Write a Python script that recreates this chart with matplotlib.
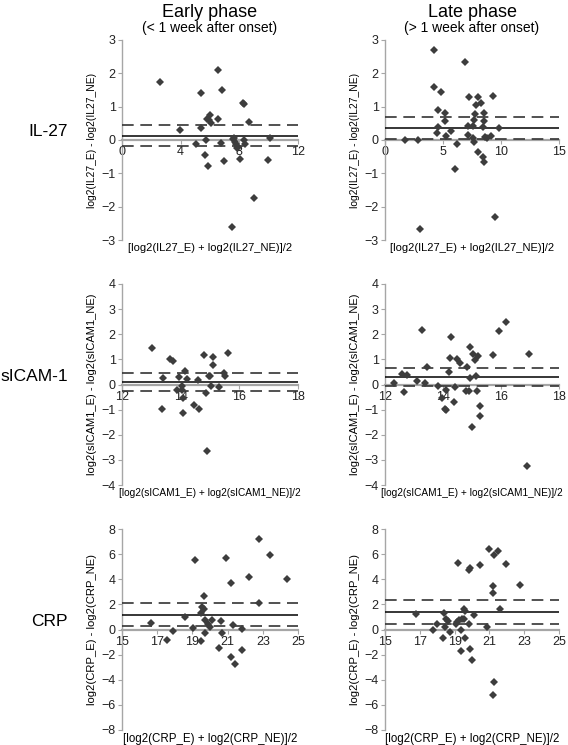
import matplotlib.pyplot as plt

plt.rcParams['font.family'] = ['Liberation Sans', 'DejaVu Sans']

# IL-27, early phase
il27_early_x = [2.56, 3.98, 5.03, 5.41, 5.41, 5.66, 5.73, 5.80, 5.84, 5.97, 5.93, 6.04,
                6.57, 6.57, 6.79, 6.77, 6.97, 7.51, 7.60, 7.67, 7.72, 7.76, 7.83, 7.92,
                8.06, 8.22, 8.33, 8.33, 8.38, 8.63, 9.01, 9.98, 10.12]
il27_early_y = [1.75, 0.30, -0.12, 1.40, 0.37, -0.45, 0.00, 0.63, -0.78, 0.75, 0.60, 0.50,
                2.11, 0.63, 1.50, -0.10, -0.62, -2.61, 0.02, 0.07, -0.05, -0.12, -0.25, -0.20,
                -0.58, 1.10, 1.08, 0.00, -0.12, 0.55, -1.75, -0.60, 0.07]

# IL-27, late phase
il27_late_x = [1.72, 2.87, 3.02, 4.22, 4.25, 4.60, 4.57, 4.45, 4.86, 5.17, 5.17, 5.26, 5.66,
               6.00, 6.18, 6.90, 7.27, 7.18, 7.16, 7.56, 7.64, 7.76, 7.61, 7.70, 7.84, 8.02,
               8.02, 8.28, 8.50, 8.56, 8.45, 8.48, 8.56, 8.65, 8.79, 9.11, 9.34, 9.45, 9.86]
il27_late_y = [0.00, 0.00, -2.68, 2.70, 1.60, 0.91, 0.39, 0.20, 1.43, 0.80, 0.58, 0.11, 0.28,
               -0.87, -0.12, 2.34, 1.28, 0.42, 0.15, 0.42, 0.60, 0.77, 0.05, -0.05, 1.04, 1.28,
               -0.36, 1.10, 0.82, 0.58, 0.39, -0.50, -0.67, 0.10, 0.06, 0.13, 1.32, -2.30, 0.35]

# sICAM-1, early phase
sicam_early_x = [13.02, 13.35, 13.39, 13.64, 13.74, 13.86, 13.95, 14.05, 14.07, 14.08, 14.03,
                 14.16, 14.20, 14.47, 14.58, 14.64, 14.78, 14.85, 14.90, 14.98, 15.00, 15.05,
                 15.10, 15.11, 15.32, 15.48, 15.50, 15.63]
sicam_early_y = [1.45, -0.96, 0.25, 1.01, 0.95, -0.20, 0.29, -0.05, -0.53, -1.12, -0.20,
                 0.53, 0.20, -0.80, 0.19, -0.97, 1.17, -0.33, -2.63, 0.35, 0.32, -0.07,
                 1.11, 0.77, -0.11, 0.45, 0.32, 1.27]

# sICAM-1, late phase
sicam_late_x = [12.32, 12.58, 12.66, 12.75, 13.10, 13.29, 13.37, 13.45, 13.83, 13.96, 14.06,
                14.09, 14.12, 14.21, 14.24, 14.26, 14.39, 14.42, 14.49, 14.57, 14.79, 14.82,
                14.89, 14.92, 14.94, 15.00, 15.04, 15.12, 15.15, 15.18, 15.20, 15.26, 15.29,
                15.71, 15.94, 16.17, 16.90, 16.98]
sicam_late_y = [0.07, 0.41, -0.29, 0.39, 0.13, 2.17, 0.04, 0.71, -0.04, -0.53, -0.96,
                -1.03, -0.21, 0.48, 1.04, 1.88, -0.68, -0.11, 1.03, 0.87, -0.25, 0.71,
                -0.27, 0.24, 1.51, -1.68, 1.23, 0.97, 0.35, -0.24, 1.15, -0.87, -1.25,
                1.16, 2.12, 2.47, -3.23, 1.21]

# CRP, early phase
crp_early_x = [16.64, 17.53, 17.91, 18.60, 19.02, 19.13, 19.49, 19.51, 19.57, 19.66, 19.68,
               19.70, 19.74, 19.87, 20.00, 20.09, 20.49, 20.62, 20.70, 20.89, 21.17, 21.21,
               21.28, 21.42, 21.79, 21.81, 22.21, 22.77, 22.79, 23.40, 24.36]
crp_early_y = [0.48, -0.80, -0.10, 0.96, 0.11, 5.50, -0.88, 1.33, 1.76, 2.63, 1.65,
               -0.24, 0.77, 0.43, 0.16, 0.72, -1.44, 0.69, -0.24, 5.72, 3.70, -2.15,
               0.35, -2.77, 0.03, -1.60, 4.18, 7.21, 2.10, 5.90, 4.02]

# CRP, late phase
crp_late_x = [16.79, 17.75, 18.00, 18.37, 18.33, 18.44, 18.48, 18.60, 18.71, 19.06, 19.13,
              19.19, 19.25, 19.35, 19.37, 19.44, 19.52, 19.56, 19.60, 19.62, 19.81, 19.83,
              19.87, 19.87, 19.98, 20.12, 20.46, 20.88, 20.96, 21.23, 21.23, 21.27, 21.25,
              21.23, 21.50, 21.60, 21.94, 22.73]
crp_late_y = [1.22, -0.05, 0.40, 1.30, -0.67, 0.21, 0.80, 0.69, -0.19, 0.45, 0.56,
              5.27, 0.74, -1.73, -0.05, 0.85, 0.80, 1.65, 1.46, -0.64, 0.43, 4.73,
              4.87, -1.54, -2.45, 1.17, 5.13, 0.21, 6.41, 2.87, 3.48, 5.90, -4.18,
              -5.21, 6.28, 1.65, 5.19, 3.54]

# mean difference and its lower / upper limits
il27_early_lines = [0.13, -0.18, 0.46]
il27_late_lines = [0.37, 0.04, 0.68]
sicam_early_lines = [0.08, -0.27, 0.44]
sicam_late_lines = [0.28, -0.05, 0.67]
crp_early_lines = [1.14, 0.25, 2.08]
crp_late_lines = [1.36, 0.45, 2.31]

markers = ['IL27', 'sICAM1', 'CRP']
row_labels = ['IL-27', 'sICAM-1', 'CRP']
x_ticks = [[[0, 4, 8, 12], [0, 5, 10, 15]],
           [[12, 14, 16, 18], [12, 14, 16, 18]],
           [[15, 17, 19, 21, 23, 25], [15, 17, 19, 21, 23, 25]]]
y_ticks = [[-3, -2, -1, 0, 1, 2, 3],
           [-4, -3, -2, -1, 0, 1, 2, 3, 4],
           [-8, -6, -4, -2, 0, 2, 4, 6, 8]]

data = [[(il27_early_x, il27_early_y, il27_early_lines), (il27_late_x, il27_late_y, il27_late_lines)],
        [(sicam_early_x, sicam_early_y, sicam_early_lines), (sicam_late_x, sicam_late_y, sicam_late_lines)],
        [(crp_early_x, crp_early_y, crp_early_lines), (crp_late_x, crp_late_y, crp_late_lines)]]

W, H = 568, 745
fig = plt.figure(figsize=(W / 100, H / 100), dpi=100)

col_px = [(122, 176), (385, 174)]
row_px = [(40, 200), (284, 201), (529, 201)]
ylabel_size = [7.4, 8.0, 8.1]
xlabel_size = [8.0, 7.3, 8.3]
gray = '#a6a6a6'

for r in range(3):
    for c in range(2):
        left, width = col_px[c]
        top, height = row_px[r]
        ax = fig.add_axes([left / W, 1 - (top + height) / H, width / W, height / H])
        xs, ys, (mean, lo, hi) = data[r][c]
        xt = x_ticks[r][c]
        yt = y_ticks[r]
        ax.plot(xs, ys, 'D', color='#3d3d3d', markersize=4.4, markeredgewidth=0, zorder=4)
        ax.axhline(mean, color='black', lw=1.1, zorder=3)
        for v in (lo, hi):
            ax.axhline(v, color='#333333', lw=1.2, dashes=(7, 4), zorder=3)
        ax.set_xlim(xt[0], xt[-1])
        ax.set_ylim(yt[0], yt[-1])
        ax.set_xticks(xt)
        ax.set_yticks(yt)
        ax.set_yticklabels([str(v).replace('-', '\u2212') for v in yt])
        for s in ('top', 'right'):
            ax.spines[s].set_visible(False)
        ax.spines['bottom'].set_position(('data', 0))
        ax.spines['bottom'].set_color(gray)
        ax.spines['bottom'].set_linewidth(1.6)
        ax.spines['left'].set_color(gray)
        ax.spines['left'].set_linewidth(1.0)
        ax.tick_params(axis='both', colors=gray, labelcolor='#222222', labelsize=9,
                       length=3, width=0.8, pad=1.5)
        ax.set_facecolor('none')
        m = markers[r]
        ax.set_ylabel(f'log2({m}_E) - log2({m}_NE)', fontsize=ylabel_size[r], labelpad=3)
        ax.text(0.5, -0.015, f'[log2({m}_E) + log2({m}_NE)]/2', transform=ax.transAxes,
                ha='center', va='top', fontsize=xlabel_size[r])
    fig.text(68 / W, 1 - (row_px[r][0] + 0.46 * row_px[r][1]) / H, row_labels[r],
             ha='right', va='center', fontsize=12.5)

titles = [('Early phase', '(< 1 week after onset)'), ('Late phase', '(> 1 week after onset)')]
for c in range(2):
    cx = (col_px[c][0] + col_px[c][1] / 2) / W
    fig.text(cx, 1 - 12.5 / H, titles[c][0], ha='center', va='center', fontsize=13)
    fig.text(cx, 1 - 28 / H, titles[c][1], ha='center', va='center', fontsize=10)

fig.savefig('out.png', dpi=100)
